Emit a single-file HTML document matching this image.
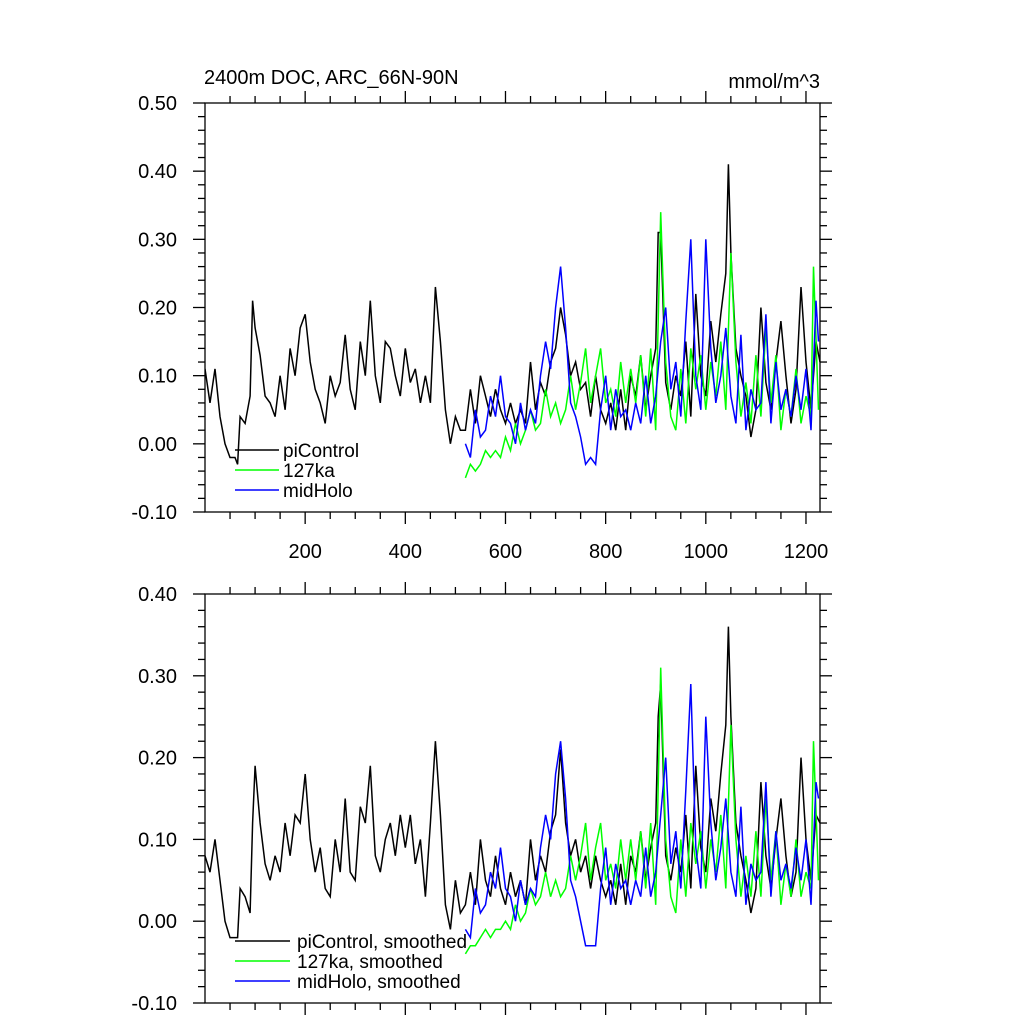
<!DOCTYPE html>
<html><head><meta charset="utf-8"><style>
body{margin:0;background:#fff}
svg text{font-family:"Liberation Sans",sans-serif}
</style></head><body>
<svg id="c" width="1024" height="1024" xmlns="http://www.w3.org/2000/svg">
<text x="204" y="84" font-size="20">2400m DOC, ARC_66N-90N</text>
<text x="820" y="88" font-size="20" text-anchor="end">mmol/m^3</text>
</svg>
<script>
const piX=[0,10,20,30,40,50,60,65,70,80,90,95,100,110,120,130,140,150,160,170,180,190,200,210,220,230,240,250,260,270,280,290,300,310,320,330,340,350,360,370,380,390,400,410,420,430,440,450,460,470,480,490,500,510,520,530,540,550,560,570,580,590,600,610,620,630,640,650,660,670,680,690,700,710,720,730,740,750,760,770,780,790,800,810,820,830,840,850,860,870,880,890,900,905,910,920,930,940,950,960,970,980,990,1000,1010,1020,1030,1040,1045,1050,1060,1070,1080,1090,1100,1110,1120,1130,1140,1150,1160,1170,1180,1190,1200,1210,1220,1228];
const piTop=[0.11,0.06,0.11,0.04,0.0,-0.02,-0.02,-0.03,0.04,0.03,0.07,0.21,0.17,0.13,0.07,0.06,0.04,0.1,0.05,0.14,0.1,0.17,0.19,0.12,0.08,0.06,0.03,0.1,0.07,0.09,0.16,0.08,0.05,0.15,0.1,0.21,0.1,0.06,0.15,0.14,0.1,0.07,0.14,0.09,0.11,0.06,0.1,0.06,0.23,0.15,0.05,0.0,0.04,0.02,0.02,0.08,0.03,0.1,0.07,0.04,0.08,0.05,0.03,0.06,0.03,0.05,0.03,0.12,0.05,0.09,0.07,0.12,0.14,0.2,0.16,0.1,0.12,0.08,0.09,0.04,0.1,0.05,0.03,0.06,0.02,0.08,0.02,0.1,0.07,0.13,0.05,0.1,0.14,0.31,0.31,0.09,0.05,0.1,0.07,0.15,0.04,0.22,0.1,0.07,0.18,0.12,0.19,0.25,0.41,0.28,0.14,0.1,0.07,0.01,0.05,0.2,0.09,0.05,0.12,0.18,0.1,0.03,0.08,0.23,0.12,0.05,0.15,0.12];
const piBot=[0.08,0.06,0.1,0.05,0.0,-0.02,-0.02,-0.02,0.04,0.03,0.01,0.12,0.19,0.12,0.07,0.05,0.08,0.06,0.12,0.08,0.13,0.12,0.18,0.1,0.06,0.09,0.04,0.03,0.1,0.06,0.15,0.06,0.05,0.14,0.12,0.19,0.08,0.06,0.1,0.12,0.08,0.13,0.09,0.13,0.07,0.1,0.03,0.12,0.22,0.13,0.02,-0.01,0.05,0.01,0.02,0.06,0.02,0.1,0.05,0.03,0.08,0.04,0.02,0.06,0.03,0.05,0.02,0.1,0.05,0.08,0.06,0.11,0.13,0.21,0.12,0.08,0.1,0.06,0.08,0.04,0.08,0.05,0.03,0.05,0.02,0.07,0.02,0.08,0.06,0.11,0.05,0.09,0.12,0.25,0.29,0.08,0.05,0.09,0.06,0.13,0.04,0.19,0.09,0.06,0.15,0.11,0.18,0.24,0.36,0.25,0.12,0.08,0.05,0.01,0.04,0.17,0.08,0.04,0.1,0.15,0.08,0.03,0.06,0.2,0.1,0.05,0.13,0.12];
const kaX=[520,530,540,550,560,570,580,590,600,610,620,630,640,650,660,670,680,690,700,710,720,730,740,750,760,770,780,790,800,810,820,830,840,850,860,870,880,890,900,910,920,930,940,950,960,970,980,990,1000,1010,1020,1030,1040,1050,1060,1070,1080,1090,1100,1110,1120,1130,1140,1150,1160,1170,1180,1190,1200,1210,1215,1225];
const kaTop=[-0.05,-0.03,-0.04,-0.03,-0.01,-0.02,-0.01,-0.02,0.01,-0.01,0.03,0.0,0.02,0.05,0.02,0.03,0.08,0.04,0.06,0.03,0.05,0.1,0.05,0.09,0.14,0.06,0.1,0.14,0.06,0.08,0.04,0.12,0.06,0.11,0.06,0.13,0.04,0.14,0.02,0.34,0.12,0.04,0.02,0.11,0.03,0.14,0.08,0.13,0.05,0.12,0.07,0.15,0.05,0.28,0.12,0.04,0.09,0.03,0.13,0.04,0.17,0.06,0.13,0.02,0.08,0.04,0.11,0.03,0.07,0.04,0.26,0.05];
const kaBot=[-0.04,-0.03,-0.03,-0.02,-0.01,-0.02,-0.01,-0.01,0.0,-0.01,0.02,0.0,0.01,0.04,0.02,0.03,0.06,0.03,0.05,0.03,0.04,0.08,0.05,0.08,0.12,0.05,0.09,0.12,0.05,0.07,0.04,0.1,0.05,0.1,0.05,0.11,0.04,0.12,0.02,0.31,0.1,0.03,0.01,0.1,0.03,0.12,0.07,0.11,0.04,0.1,0.06,0.13,0.04,0.24,0.1,0.03,0.08,0.03,0.11,0.03,0.15,0.05,0.11,0.02,0.07,0.03,0.1,0.03,0.06,0.04,0.22,0.05];
const mhX=[520,530,540,550,560,570,580,590,600,610,620,630,640,650,660,670,680,690,700,710,720,730,740,750,760,770,780,790,800,810,820,830,840,850,860,870,880,890,900,910,920,930,940,950,960,970,980,990,1000,1010,1020,1030,1040,1050,1060,1070,1080,1090,1100,1110,1120,1130,1140,1150,1160,1170,1180,1190,1200,1210,1220,1225];
const mhTop=[0.0,-0.02,0.05,0.01,0.02,0.07,0.04,0.1,0.04,0.03,0.0,0.06,0.02,0.05,0.03,0.1,0.15,0.11,0.2,0.26,0.17,0.06,0.04,0.01,-0.03,-0.02,-0.03,0.05,0.1,0.02,0.08,0.04,0.05,0.02,0.06,0.03,0.1,0.03,0.07,0.15,0.2,0.08,0.12,0.04,0.18,0.3,0.1,0.05,0.3,0.14,0.06,0.1,0.17,0.07,0.03,0.16,0.02,0.08,0.05,0.06,0.19,0.03,0.12,0.05,0.08,0.04,0.1,0.05,0.11,0.02,0.21,0.15];
const mhBot=[-0.01,-0.02,0.04,0.01,0.02,0.06,0.04,0.09,0.04,0.03,0.0,0.05,0.02,0.04,0.03,0.09,0.13,0.1,0.18,0.22,0.15,0.05,0.03,0.0,-0.03,-0.03,-0.03,0.04,0.09,0.02,0.07,0.04,0.05,0.02,0.05,0.03,0.09,0.03,0.06,0.13,0.2,0.07,0.11,0.04,0.16,0.29,0.09,0.04,0.25,0.12,0.05,0.09,0.15,0.06,0.03,0.14,0.02,0.07,0.05,0.06,0.17,0.03,0.11,0.05,0.07,0.04,0.09,0.05,0.1,0.02,0.17,0.15];
const yTicksTop=["0.50","0.40","0.30","0.20","0.10","0.00","-0.10"];
const yTicksBot=["0.40","0.30","0.20","0.10","0.00","-0.10"];
const xTicks=[200,400,600,800,1000,1200];

const svg=document.getElementById('c');
const NS='http://www.w3.org/2000/svg';
function mk(tag,attrs,parent){const e=document.createElementNS(NS,tag);for(const k in attrs)e.setAttribute(k,attrs[k]);(parent||svg).appendChild(e);return e;}
const X0=205,X1=820,XMAX=1228;
function xs(v){return X0+v/XMAX*(X1-X0);}

function panel(top,bot,ymin,ymax,yLabels,showX,series,legend,pname){
  const g=mk('g',{});
  
  
  const ys=v=>bot-(v-ymin)/(ymax-ymin)*(bot-top);
  const ax=mk('g',{stroke:'#000','stroke-width':1.3,fill:'none'},g);
  
  
  mk('rect',{x:X0,y:top,width:X1-X0,height:bot-top},ax);
  for(let v=50;v<XMAX;v+=50){const x=xs(v);const L=(v%200===0)?12:7;
    mk('line',{x1:x,x2:x,y1:bot,y2:bot+L},ax);mk('line',{x1:x,x2:x,y1:top,y2:top-L},ax);}
  const n=Math.round((ymax-ymin)/0.02);
  for(let i=0;i<=n;i++){const v=ymin+i*0.02;const y=ys(v);const L=(i%5===0)?12:7;
    mk('line',{x1:X0,x2:X0-L,y1:y,y2:y},ax);mk('line',{x1:X1,x2:X1+L,y1:y,y2:y},ax);}
  yLabels.forEach(s=>{const t=mk('text',{x:X0-28,y:ys(parseFloat(s))+7,'font-size':20,'text-anchor':'end'},g);t.textContent=s;
    
    });
  if(showX)xTicks.forEach(v=>{const t=mk('text',{x:xs(v),y:bot+46,'font-size':20,'text-anchor':'middle'},g);t.textContent=v;
    
    });
  const cp='cp'+pname;
  const defs=mk('defs',{},g);const c=mk('clipPath',{id:cp},defs);mk('rect',{x:X0,y:top,width:X1-X0,height:bot-top},c);
  series.forEach(s=>{const d=s.x.map((x,i)=>(i?'L':'M')+xs(x).toFixed(1)+','+ys(s.y[i]).toFixed(1)).join('');
    const p=mk('path',{d:d,stroke:s.c,fill:'none','stroke-width':1.5,'clip-path':'url(#'+cp+')'},g);
    
    });
  series.forEach((s,i)=>{const y=legend.y+i*20;
    const le=mk('g',{},g);
    
    
    mk('line',{x1:235,x2:legend.x2,y1:y,y2:y,stroke:s.c,'stroke-width':1.5},le);
    const t=mk('text',{x:legend.tx,y:y+7,'font-size':19},le);t.textContent=s.label;});
}
panel(103,512,-0.1,0.5,yTicksTop,true,[
 {x:piX,y:piTop,c:'#000',n:'picontrol-line',label:'piControl'},
 {x:kaX,y:kaTop,c:'#00ff00',n:'127ka-line',label:'127ka'},
 {x:mhX,y:mhTop,c:'#0000ff',n:'midholo-line',label:'midHolo'}],{y:450,x2:279,tx:283},'top-panel');
panel(594,1003,-0.1,0.4,yTicksBot,false,[
 {x:piX,y:piBot,c:'#000',n:'picontrol-smoothed-line',label:'piControl, smoothed'},
 {x:kaX,y:kaBot,c:'#00ff00',n:'127ka-smoothed-line',label:'127ka, smoothed'},
 {x:mhX,y:mhBot,c:'#0000ff',n:'midholo-smoothed-line',label:'midHolo, smoothed'}],{y:941,x2:290,tx:297},'bottom-panel');
</script>
</body></html>
